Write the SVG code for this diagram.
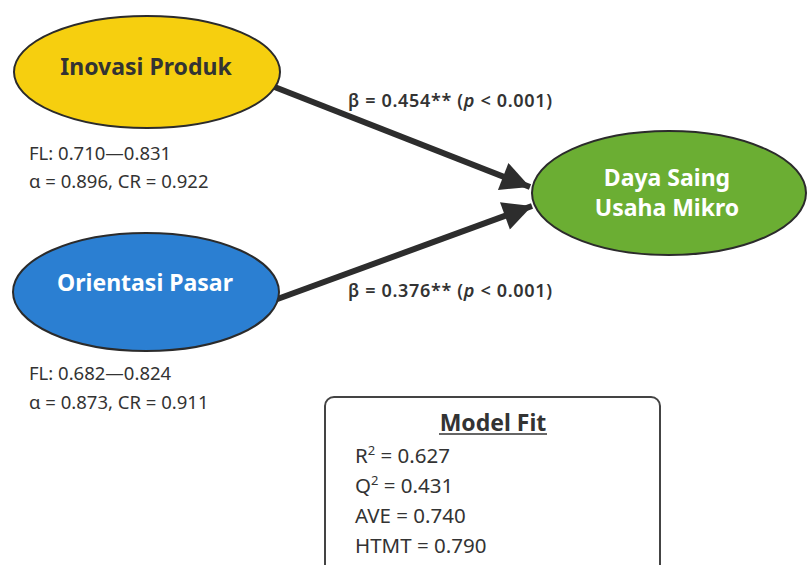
<svg xmlns="http://www.w3.org/2000/svg" width="808" height="565" viewBox="0 0 808 565">
<defs>
<style>
text{font-family:"Noto Sans","Open Sans","DejaVu Sans",sans-serif;fill:#333}
.title{font-size:23px;font-weight:bold;text-anchor:middle}
.w{fill:#fff}
.stat{font-size:18.5px}
.beta{font-size:18px;font-weight:600}
.fit{font-size:20.5px}
.node{stroke:#2b2b2b;stroke-width:2}
.conn{stroke:#2d2d2d;stroke-width:6;fill:none}
</style>
<marker id="ah" viewBox="0 0 10 10" refX="10" refY="5" markerWidth="5" markerHeight="4.8" markerUnits="strokeWidth" orient="auto">
<path d="M0,0 L10,5 L0,10 z" fill="#2d2d2d"/>
</marker>
</defs>
<rect width="808" height="565" fill="#fff"/>
<g id="connectors">
<line class="conn" x1="272" y1="86" x2="530" y2="187" marker-end="url(#ah)"/>
<line class="conn" x1="272" y1="301" x2="532" y2="206" marker-end="url(#ah)"/>
</g>
<g id="inovasi-produk">
<ellipse class="node" cx="147" cy="72" rx="133" ry="56" fill="#F6CF0F"/>
<text class="title" x="146" y="75" fill="#2a2a2a">Inovasi Produk</text>
</g>
<g id="orientasi-pasar">
<ellipse class="node" cx="146" cy="292" rx="133" ry="59" fill="#2B7FD2"/>
<text class="title w" x="145" y="291">Orientasi Pasar</text>
</g>
<g id="daya-saing">
<ellipse class="node" cx="669" cy="193" rx="137" ry="62" fill="#6BAE33"/>
<text class="title w" x="667" y="186">Daya Saing</text>
<text class="title w" x="667" y="216">Usaha Mikro</text>
</g>
<g id="labels">
<text class="beta" x="348" y="107" textLength="204" lengthAdjust="spacing">β = 0.454** (<tspan font-style="italic">p</tspan> &lt; 0.001)</text>
<text class="beta" x="348" y="297" textLength="204" lengthAdjust="spacing">β = 0.376** (<tspan font-style="italic">p</tspan> &lt; 0.001)</text>
<text class="stat" x="29" y="160">FL: 0.710—0.831</text>
<text class="stat" x="29" y="188">α = 0.896, CR = 0.922</text>
<text class="stat" x="29" y="380">FL: 0.682—0.824</text>
<text class="stat" x="29" y="409">α = 0.873, CR = 0.911</text>
</g>
<g id="model-fit">
<rect x="325" y="397" width="335" height="185" rx="9" fill="#fff" stroke="#444" stroke-width="2"/>
<text class="title" x="493" y="431">Model Fit</text>
<line x1="439" y1="434" x2="547" y2="434" stroke="#333" stroke-width="1.5"/>
<text class="fit" x="355" y="463">R<tspan font-size="13" dy="-8">2</tspan><tspan dy="8"> = 0.627</tspan></text>
<text class="fit" x="355" y="493">Q<tspan font-size="13" dy="-8">2</tspan><tspan dy="8"> = 0.431</tspan></text>
<text class="fit" x="355" y="523">AVE = 0.740</text>
<text class="fit" x="355" y="553">HTMT = 0.790</text>
</g>
</svg>
